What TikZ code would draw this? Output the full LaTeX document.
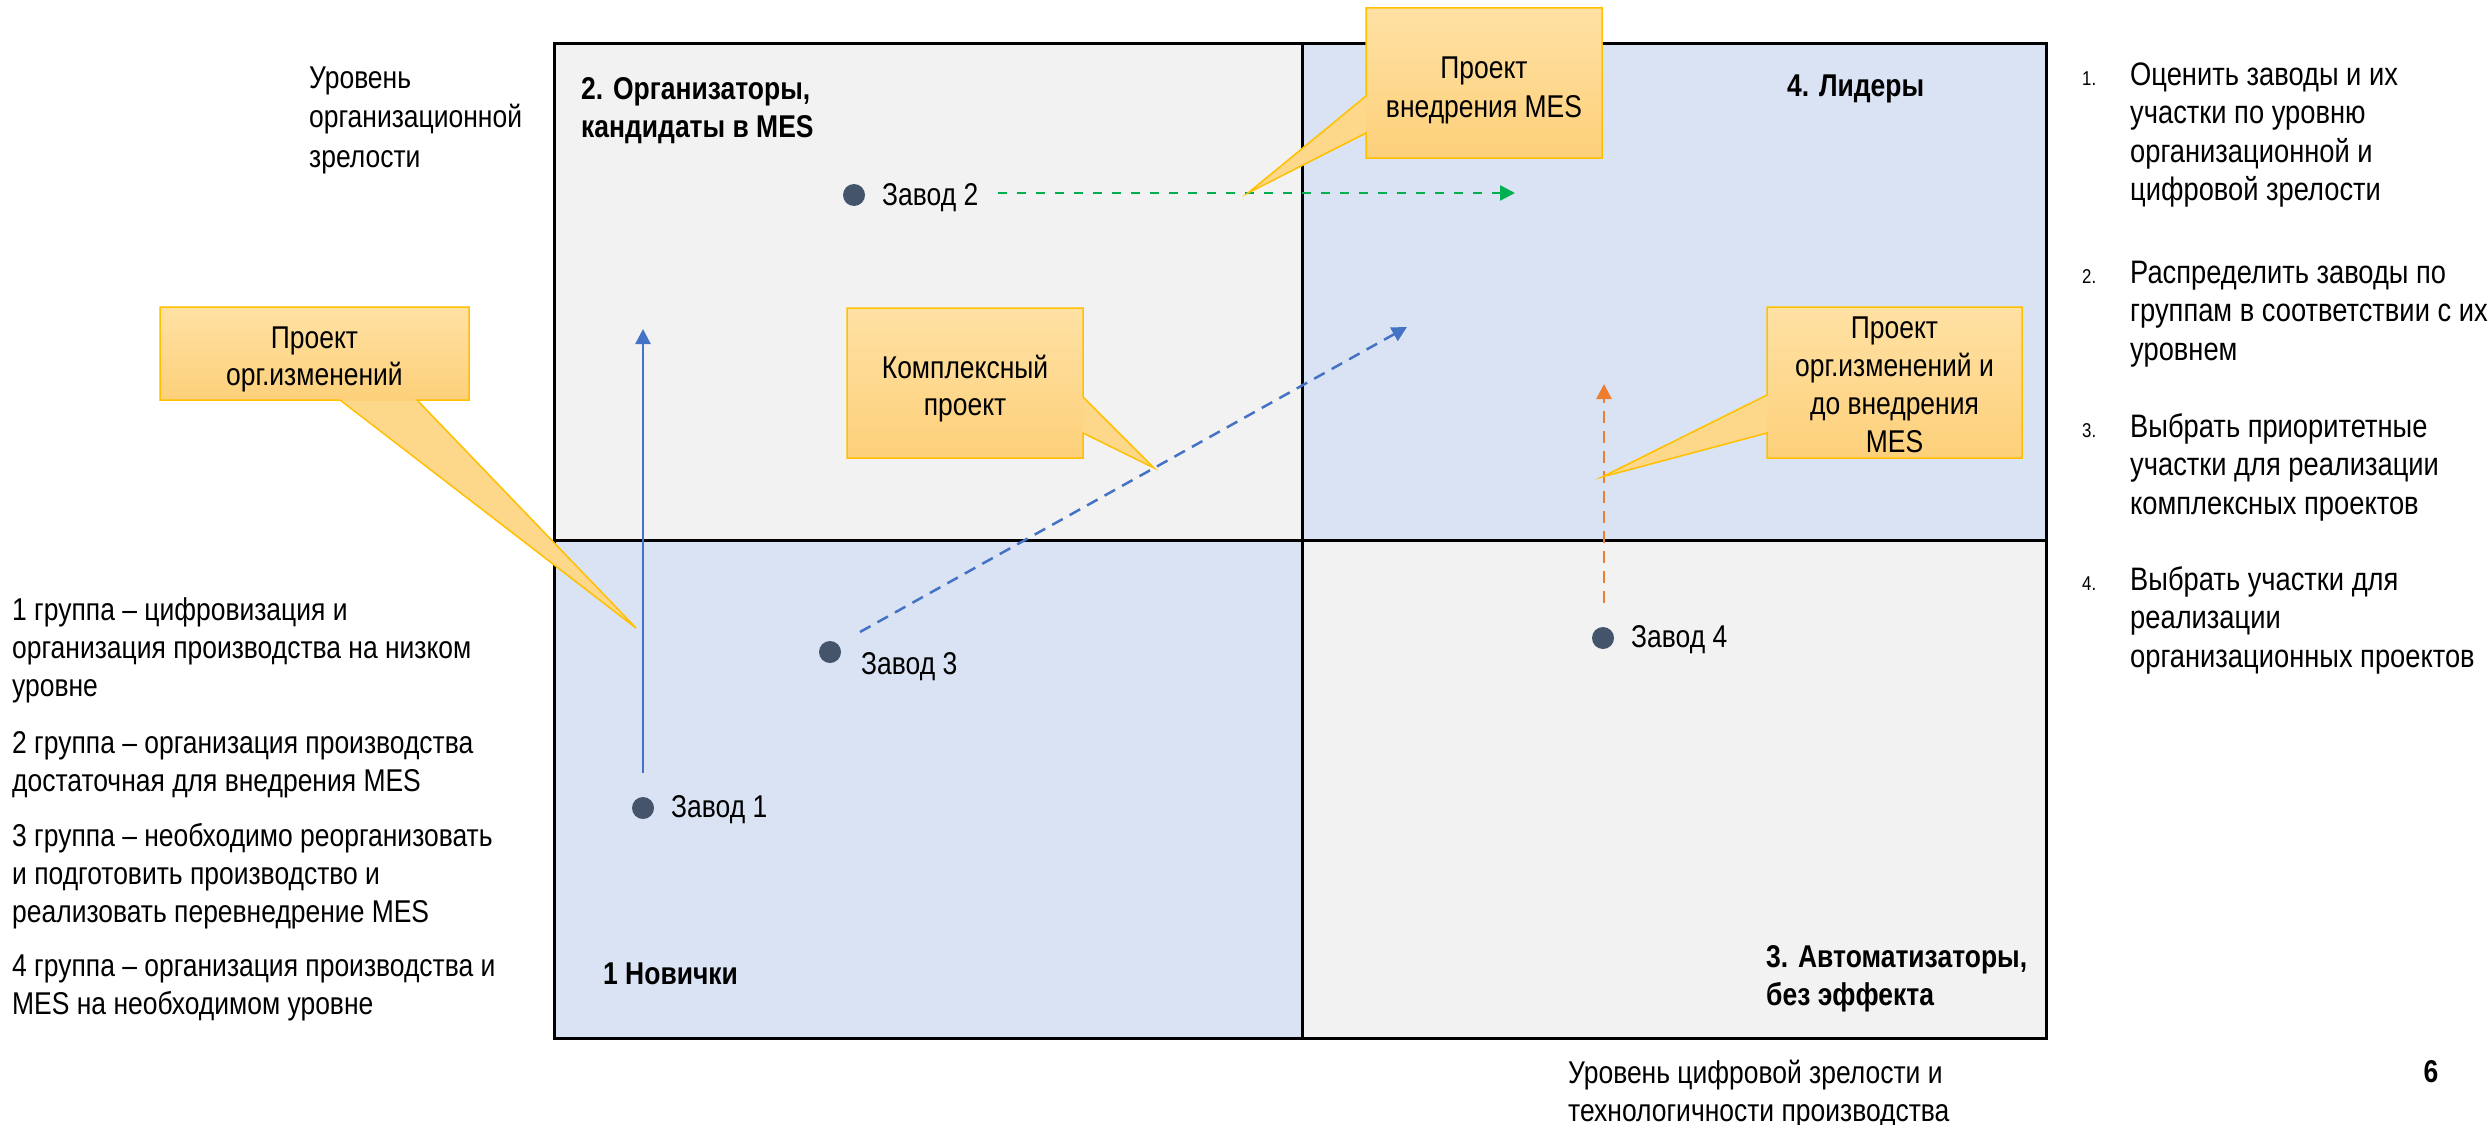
\documentclass[tikz,border=0pt]{standalone}
\usepackage{fontspec}
\setmainfont{Liberation Sans}
\newfontfamily\nar[FakeStretch=0.84]{Liberation Sans}
\usetikzlibrary{arrows.meta}
\definecolor{qgray}{HTML}{F2F2F2}
\definecolor{qblue}{HTML}{DAE3F3}
\definecolor{dotc}{HTML}{44546A}
\definecolor{ablue}{HTML}{4472C4}
\definecolor{agreen}{HTML}{00B050}
\definecolor{aorange}{HTML}{ED7D31}
\definecolor{ctop}{HTML}{FFE1A4}
\definecolor{cbot}{HTML}{FDD07A}
\definecolor{cmid}{HTML}{FDD78A}
\definecolor{cline}{HTML}{FFC000}
\newcommand\fst{\rule{0pt}{25.2pt}}
\newcommand\bst{\rule{0pt}{25.6pt}}
\begin{document}
\begin{tikzpicture}[x=1pt,y=-1pt,
  txt/.style={font={\nar\fontsize{31.5}{38}\selectfont}, inner sep=0pt, align=left, anchor=north west},
  ctxt/.style={font={\nar\fontsize{31.5}{38}\selectfont}, inner sep=0pt, align=center, anchor=north},
  lst/.style={font={\nar\fontsize{32.5}{38.5}\selectfont}, inner sep=0pt, align=left, anchor=north west},
  num/.style={font={\nar\fontsize{20}{24}\selectfont}, inner sep=0pt, anchor=base west},
  bld/.style={font={\nar\bfseries\fontsize{31.5}{38}\selectfont}, inner sep=0pt, align=left, anchor=north west},
  plant/.style={font={\nar\fontsize{31.5}{38}\selectfont}, inner sep=0pt, anchor=base west},
  dot/.style={circle, fill=dotc, minimum size=22pt, inner sep=0pt},
  arr/.style={line width=2.5pt, -{Triangle[length=15pt,width=15pt]}},
  dsh/.style={dash pattern=on 12pt off 8pt},
  gdsh/.style={dash pattern=on 9pt off 10pt},
  frame/.style={line width=3pt, draw=black},
  cshade/.style={top color=ctop, bottom color=cbot, draw=none},
  cwedge/.style={fill=cmid, draw=none},
  cborder/.style={draw=cline, line width=1.5pt, line join=miter}
]
\useasboundingbox (0,0) rectangle (2488,1124);
\fill[white] (0,0) rectangle (2488,1124);

% quadrants
\fill[qgray] (554,44) rectangle (1302,540);
\fill[qblue] (1302,44) rectangle (2046,540);
\fill[qblue] (554,540) rectangle (1302,1038);
\fill[qgray] (1302,540) rectangle (2046,1038);
\draw[frame] (554,44) rectangle (2046,1038);
\draw[frame] (1302,44) -- (1302,1038);
\draw[frame] (554,540) -- (2046,540);

% axis texts
\node[txt, font={\nar\fontsize{31.5}{39.5}\selectfont}] (ytitle) at (309,62.8) {\fst Уровень\\организационной\\зрелости};
\node[txt] (xtitle) at (1568,1057.8) {\fst Уровень цифровой зрелости и\\технологичности производства};
\node[font={\nar\bfseries\fontsize{31.5}{38}\selectfont}, inner sep=0pt, anchor=north] (pnum) at (2431,1056.4) {\bst 6};

% left list
\node[txt] (g1) at (12,594.8) {\fst 1 группа – цифровизация и\\организация производства на низком\\уровне};
\node[txt] (g2) at (12,727.8) {\fst 2 группа – организация производства\\достаточная для внедрения MES};
\node[txt] (g3) at (12,820.8) {\fst 3 группа – необходимо реорганизовать\\и подготовить производство и\\реализовать перевнедрение MES};
\node[txt] (g4) at (12,950.8) {\fst 4 группа – организация производства и\\MES на необходимом уровне};

% right list
\node[num] (n1) at (2082,85) {1.};
\node[lst] (s1) at (2130,59.8) {\fst Оценить заводы и их\\участки по уровню\\организационной и\\цифровой зрелости};
\node[num] (n2) at (2082,283) {2.};
\node[lst] (s2) at (2130,257.8) {\fst Распределить заводы по\\группам в соответствии с их\\уровнем};
\node[num] (n3) at (2082,437) {3.};
\node[lst] (s3) at (2130,411.8) {\fst Выбрать приоритетные\\участки для реализации\\комплексных проектов};
\node[num] (n4) at (2082,590) {4.};
\node[lst] (s4) at (2130,564.8) {\fst Выбрать участки для\\реализации\\организационных проектов};

% quadrant labels
\node[bld] (q2) at (581,73.4) {\bst 2. Организаторы,\\кандидаты в MES};
\node[bld] (q4) at (1787,70.4) {\bst 4. Лидеры};
\node[bld] (q1) at (603,958.4) {\bst 1 Новички};
\node[bld] (q3) at (1766,941.4) {\bst 3. Автоматизаторы,\\без эффекта};

% arrows
\coordinate (b1s) at (643,773);
\coordinate (b1e) at (643,329);
\coordinate (b2s) at (860,632);
\coordinate (b2e) at (1407,327);
\coordinate (g1s) at (998,193);
\coordinate (g1e) at (1515,193);
\coordinate (o1s) at (1604,603);
\coordinate (o1e) at (1604,384);
\draw[arr, ablue] (b1s) -- (b1e);
\draw[arr, ablue, dsh] (b2s) -- (b2e);
\draw[arr, agreen, gdsh] (g1s) -- (g1e);
\draw[arr, aorange, dsh] (o1s) -- (o1e);

% plants
\node[dot] (z1) at (643,808) {};
\node[plant] (z1t) at (671,817) {Завод 1};
\node[dot] (z2) at (854,195) {};
\node[plant] (z2t) at (882,205) {Завод 2};
\node[dot] (z3) at (830,652) {};
\node[plant] (z3t) at (861,674) {Завод 3};
\node[dot] (z4) at (1603,638) {};
\node[plant] (z4t) at (1631,647) {Завод 4};

% callout tips
\coordinate (t1) at (636,628);
\coordinate (t2) at (1154,468);
\coordinate (t3) at (1248,193);
\coordinate (t4) at (1602,477);

% callout 1 (bottom wedge)
\fill[cwedge] (340,399) -- (t1) -- (417,399) -- cycle;
\shade[cshade] (160,307) rectangle (469,400);
\draw[cborder] (160,307) -- (469,307) -- (469,400) -- (417,400) -- (t1) -- (340,400) -- (160,400) -- cycle;
\node[ctxt, font={\nar\fontsize{31.5}{37}\selectfont}] (c1) at (314.5,322.8) {\fst Проект\\орг.изменений};

% callout 2 (right wedge)
\fill[cwedge] (1082,397) -- (t2) -- (1082,433) -- cycle;
\shade[cshade] (847,308) rectangle (1083,458);
\draw[cborder] (847,308) -- (1083,308) -- (1083,397) -- (t2) -- (1083,433) -- (1083,458) -- (847,458) -- cycle;
\node[ctxt, font={\nar\fontsize{31.5}{37}\selectfont}] (c2) at (965,352.8) {\fst Комплексный\\проект};

% callout 3 (left wedge)
\fill[cwedge] (1367,96) -- (t3) -- (1367,133) -- cycle;
\shade[cshade] (1366,8) rectangle (1602,158);
\draw[cborder] (1366,8) -- (1602,8) -- (1602,158) -- (1366,158) -- (1366,133) -- (t3) -- (1366,96) -- cycle;
\node[ctxt, font={\nar\fontsize{31.5}{39}\selectfont}] (c3) at (1484,52.8) {\fst Проект\\внедрения MES};

% callout 4 (left wedge)
\fill[cwedge] (1768,395) -- (t4) -- (1768,433) -- cycle;
\shade[cshade] (1767,307) rectangle (2022,458);
\draw[cborder] (1767,307) -- (2022,307) -- (2022,458) -- (1767,458) -- (1767,433) -- (t4) -- (1767,395) -- cycle;
\node[ctxt] (c4) at (1894.5,312.8) {\fst Проект\\орг.изменений и\\до внедрения\\MES};
\end{tikzpicture}
\end{document}
